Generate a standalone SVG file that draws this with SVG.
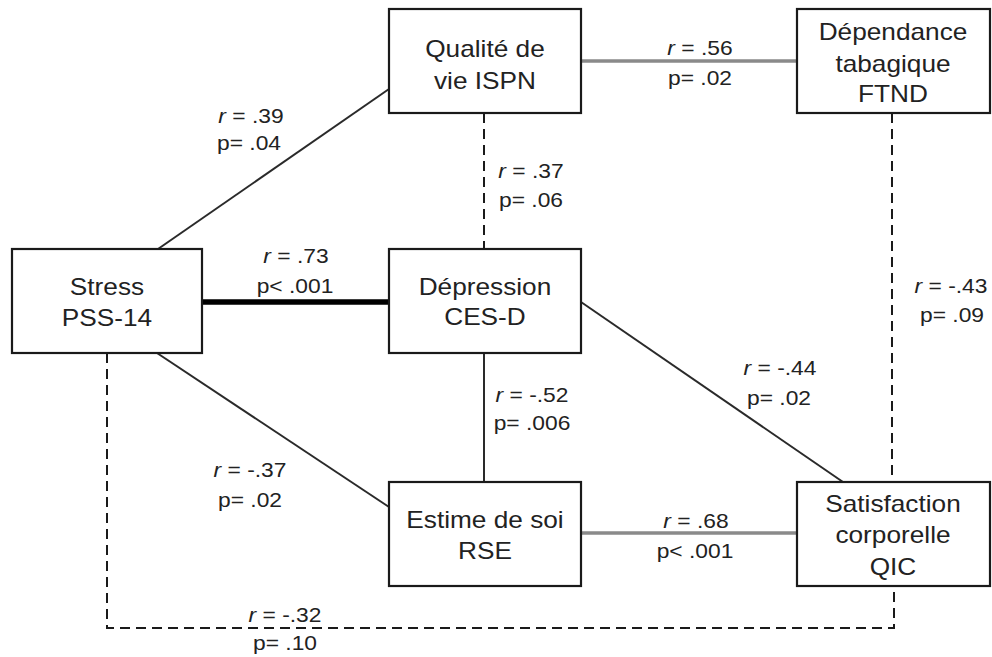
<svg xmlns="http://www.w3.org/2000/svg" width="992" height="657" viewBox="0 0 992 657">
<style>
  .box { fill: #ffffff; stroke: #1a1a1a; stroke-width: 2.2; }
  .n { font-family: "Liberation Sans", Arial, sans-serif; font-size: 23px; fill: #222222; text-anchor: middle; transform-box: fill-box; transform-origin: center; transform: scaleX(1.14); }
  .l { font-family: "Liberation Sans", Arial, sans-serif; font-size: 20px; fill: #222222; text-anchor: middle; transform-box: fill-box; transform-origin: center; transform: scaleX(1.14); }
  .solid { stroke: #2a2a2a; stroke-width: 2; fill: none; }
  .dash { stroke: #1a1a1a; stroke-width: 2; fill: none; stroke-dasharray: 10 6; }
  .gray { stroke: #8a8a8a; stroke-width: 3.5; fill: none; }
  .thick { stroke: #000000; stroke-width: 5.5; fill: none; stroke-linecap: round; }
</style>
<rect width="992" height="657" fill="#ffffff"/>
<g id="connectors">
  <line class="solid" x1="158" y1="249" x2="389" y2="89"/>
  <line class="solid" x1="157" y1="353" x2="389" y2="507"/>
  <line class="solid" x1="581" y1="302" x2="843" y2="482"/>
  <line class="solid" x1="484" y1="353" x2="484" y2="482"/>
  <line class="dash" x1="484" y1="113" x2="484" y2="249"/>
  <line class="dash" x1="892" y1="113" x2="892" y2="482"/>
  <polyline class="dash" points="107,353 107,628 894,628 894,586"/>
  <line class="thick" x1="202" y1="302" x2="389" y2="302"/>
  <line class="gray" x1="581" y1="61" x2="797" y2="61"/>
  <line class="gray" x1="581" y1="533" x2="797" y2="533"/>
</g>
<g id="labels">
  <text class="l" x="251" y="123"><tspan font-style="italic">r</tspan> = .39</text>
  <text class="l" x="249" y="150">p= .04</text>
  <text class="l" x="296" y="263"><tspan font-style="italic">r</tspan> = .73</text>
  <text class="l" x="295" y="293">p&lt; .001</text>
  <text class="l" x="700" y="55"><tspan font-style="italic">r</tspan> = .56</text>
  <text class="l" x="700" y="85">p= .02</text>
  <text class="l" x="531" y="178"><tspan font-style="italic">r</tspan> = .37</text>
  <text class="l" x="531" y="207">p= .06</text>
  <text class="l" x="951" y="293"><tspan font-style="italic">r</tspan> = -.43</text>
  <text class="l" x="952" y="322">p= .09</text>
  <text class="l" x="250" y="477"><tspan font-style="italic">r</tspan> = -.37</text>
  <text class="l" x="250" y="507">p= .02</text>
  <text class="l" x="285" y="622"><tspan font-style="italic">r</tspan> = -.32</text>
  <text class="l" x="285" y="650">p= .10</text>
  <text class="l" x="780" y="375"><tspan font-style="italic">r</tspan> = -.44</text>
  <text class="l" x="779" y="405">p= .02</text>
  <text class="l" x="532" y="402"><tspan font-style="italic">r</tspan> = -.52</text>
  <text class="l" x="532" y="430">p= .006</text>
  <text class="l" x="696" y="528"><tspan font-style="italic">r</tspan> = .68</text>
  <text class="l" x="695" y="558">p&lt; .001</text>
</g>
<g id="stress">
  <rect class="box" x="12" y="249" width="190" height="104"/>
  <text class="n" x="107" y="295">Stress</text>
  <text class="n" x="107" y="326">PSS-14</text>
</g>
<g id="qualite">
  <rect class="box" x="389" y="9" width="192" height="104"/>
  <text class="n" x="485" y="57">Qualité de</text>
  <text class="n" x="485" y="89">vie ISPN</text>
</g>
<g id="dependance">
  <rect class="box" x="797" y="9" width="193" height="104"/>
  <text class="n" x="893" y="40">Dépendance</text>
  <text class="n" x="893" y="72">tabagique</text>
  <text class="n" x="893" y="102">FTND</text>
</g>
<g id="depression">
  <rect class="box" x="389" y="249" width="192" height="104"/>
  <text class="n" x="485" y="295">Dépression</text>
  <text class="n" x="485" y="325">CES-D</text>
</g>
<g id="estime">
  <rect class="box" x="389" y="482" width="192" height="104"/>
  <text class="n" x="485" y="528">Estime de soi</text>
  <text class="n" x="485" y="559">RSE</text>
</g>
<g id="satisfaction">
  <rect class="box" x="797" y="482" width="193" height="104"/>
  <text class="n" x="893" y="512">Satisfaction</text>
  <text class="n" x="893" y="543">corporelle</text>
  <text class="n" x="893" y="575">QIC</text>
</g>
</svg>
